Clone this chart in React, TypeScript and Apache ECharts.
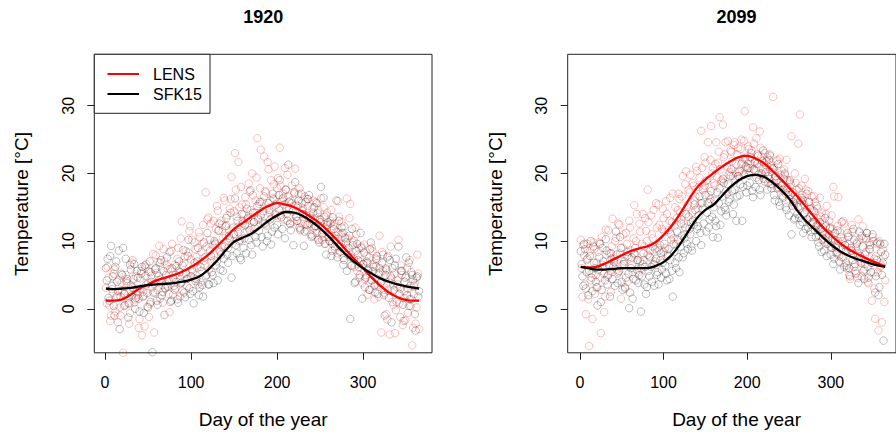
import React, { useEffect, useRef } from "react";
import * as echarts from "echarts";

// ---------- data ----------
// scatter values: "odd" arrays hold days 1,3,5,...,365 ; "even" arrays hold days 2,4,...,364
const lens1920Odd: number[] = [
  3.1, 6.2, 0.5, -1.0, 2.4, 5.8, 1.7, -2.0, 0.2, 3.8,
  -6.5, 2.2, 4.1, 0.8, -0.6, 6.8, 3.0, 1.4, 2.6, -2.8,
  4.5, -3.9, 1.9, 6.1, 0.3, -1.2, 5.4, 3.2, -3.5, 7.9,
  2.8, 9.3, 4.4, 0.9, 7.0, 3.6, 5.8, -0.5, 8.6, 2.1,
  6.5, 4.0, 9.0, 1.8, 12.9, 5.2, 7.7, 3.4, 8.3, 12.2,
  10.2, 4.6, 8.8, 6.0, 11.3, 3.9, 9.6, 7.1, 17.2, 13.2,
  5.8, 12.6, 9.4, 7.2, 11.8, 14.5, 8.6, 13.0, 10.5, 16.0,
  12.3, 9.0, 14.8, 19.5, 11.0, 23.0, 13.6, 21.7, 10.2, 15.4,
  13.9, 16.5, 11.5, 18.5, 14.6, 20.0, 12.8, 16.0, 25.2, 15.5,
  23.5, 13.0, 22.5, 17.2, 21.7, 14.2, 19.0, 16.4, 21.0, 13.8,
  19.3, 23.8, 15.8, 17.0, 20.8, 14.0, 16.6, 12.5, 18.2, 15.2,
  20.7, 13.6, 16.9, 11.8, 15.6, 14.0, 12.5, 16.2, 13.3, 11.0,
  14.8, 12.0, 15.8, 10.4, 13.2, 16.3, 11.2, 9.6, 13.8, 12.4,
  10.0, 14.6, 12.2, 8.8, 11.4, 15.9, 9.2, 12.8, 7.5, 10.6,
  16.3, 8.3, 15.5, 6.4, 10.1, 12.0, 5.6, 8.9, 7.0, 3.8,
  9.5, 5.0, 2.1, 7.6, 4.2, 8.5, 1.4, 6.3, 3.5, 10.8,
  -3.5, 5.6, 2.8, -0.8, 7.8, -3.8, 4.5, 0.6, -3.6, 3.2,
  10.2, -1.2, 5.0, 1.6, -1.7, 6.0, 0.4, 3.4, -5.4, 2.2,
  -2.2, 8.0, -3.0,
];
const lens1920Even: number[] = [
  0.8, 4.6, -1.8, 2.9, 5.2, -0.4, 1.9, 4.3, -1.0, 2.7,
  0.4, 5.0, 1.6, -2.2, 3.5, 7.2, 0.9, 4.8, 2.0, -1.5,
  5.6, 2.5, -2.6, 6.6, 3.8, 0.7, 4.9, 8.1, 2.4, 5.3,
  6.9, 1.5, 4.0, 8.8, 3.1, 6.4, 2.2, 5.9, 9.6, 4.3,
  3.0, 7.4, 5.6, 10.4, 2.6, 6.8, 8.5, 4.5, 11.5, 7.3,
  5.5, 9.8, 7.6, 3.6, 10.6, 8.4, 12.4, 6.4, 9.2, 13.5,
  10.2, 7.0, 13.0, 9.8, 15.2, 11.5, 8.4, 12.4, 16.4, 10.8,
  13.8, 11.6, 16.2, 9.6, 14.4, 17.6, 12.1, 15.0, 18.0, 13.0,
  11.2, 15.4, 13.2, 17.3, 12.0, 16.8, 14.2, 19.4, 13.4, 17.8,
  15.8, 12.6, 17.4, 14.8, 20.6, 16.0, 13.4, 18.4, 15.2, 17.8,
  14.6, 18.2, 16.2, 13.2, 17.6, 19.8, 14.8, 16.0, 12.9, 17.0,
  15.4, 13.0, 17.8, 12.6, 14.8, 16.6, 11.6, 15.2, 13.8, 12.2,
  16.0, 13.4, 11.2, 14.6, 12.8, 10.2, 15.0, 12.0, 14.2, 10.8,
  13.0, 9.6, 12.6, 10.8, 8.2, 13.6, 11.0, 9.0, 12.2, 8.6,
  10.4, 13.4, 7.6, 9.8, 6.2, 11.0, 8.0, 4.6, 9.2, 6.6,
  4.4, 7.8, 5.8, 2.8, 9.0, 6.6, 3.6, 7.2, 1.8, 5.4,
  8.4, 2.4, 6.0, -1.6, 4.0, 9.2, 1.0, 5.2, -0.2, 3.6,
  0.8, 6.4, -2.4, 2.6, 4.8, -0.6, 7.2, 1.4, -2.8, 3.8,
  0.2, 5.2,
];
const sfk1920Odd: number[] = [
  6.0, 7.4, 1.2, 9.3, 4.8, -1.0, 7.0, 2.6, -3.0, 5.2,
  9.0, 0.5, 3.8, -1.3, 6.5, 2.0, 4.4, 0.0, 5.6, 1.5,
  3.0, 6.2, -0.6, 4.9, 2.3, 5.5, 1.0, -6.4, 3.7, 6.0,
  0.6, 4.2, 7.2, 2.5, -0.9, 5.0, 3.3, 8.4, 1.2, 4.6,
  2.8, 6.3, 0.9, 5.4, 3.9, 8.7, 1.7, 4.4, 10.2, 2.2,
  5.8, 0.8, 4.1, 7.0, 2.0, 6.2, 3.5, 9.8, 4.8, 11.2,
  3.6, 7.8, 5.0, 10.0, 6.4, 4.2, 12.6, 8.0, 5.6, 9.2,
  13.4, 6.8, 10.4, 4.6, 12.0, 16.3, 8.2, 11.3, 7.5, 14.0,
  9.0, 12.4, 14.8, 10.2, 17.5, 8.0, 12.8, 10.6, 15.2, 11.5,
  13.8, 9.2, 16.6, 12.3, 10.8, 14.6, 9.5, 17.0, 12.0, 15.4,
  11.0, 19.0, 13.5, 16.4, 10.4, 14.8, 21.3, 12.6, 15.6, 9.4,
  18.7, 13.0, 16.0, 11.6, 14.5, 9.3, 15.8, 12.4, 16.8, 13.4,
  10.8, 15.0, 12.2, 14.1, 9.8, 18.0, 11.6, 13.6, 8.0, 12.8,
  10.0, 7.8, 13.5, 9.2, 16.0, 11.3, 8.4, 12.0, 6.5, 10.4,
  5.6, 9.0, -1.5, 11.8, 7.4, 4.0, 9.6, 6.2, 11.2, 1.5,
  8.3, 4.6, 6.8, 2.8, 9.8, 5.5, 3.4, 7.4, 2.2, 6.0,
  4.0, 8.0, -1.0, 5.8, 2.7, 7.2, -2.0, 3.6, 6.4, 1.0,
  9.2, 3.0, 5.6, -1.8, 4.6, 2.0, 6.8, 0.4, 5.0, 3.4,
  -3.2, 4.8, 2.6,
];
const sfk1920Even: number[] = [
  4.2, 1.6, 7.8, 3.4, 0.4, 6.2, 4.0, 8.6, 1.8, 5.0,
  2.2, 7.4, 4.4, 0.8, 5.8, 3.2, 6.6, 1.6, 4.6, -0.4,
  5.2, 1.8, 6.4, 3.6, 0.2, 7.0, 4.0, 2.4, 5.8, 1.2,
  4.8, 6.8, 2.0, 5.6, 3.0, 7.6, 4.2, 1.0, 6.0, 3.4,
  5.0, 1.4, 7.0, 3.8, 6.4, 2.4, 5.2, 7.8, 3.0, 4.8,
  2.6, 6.8, 4.4, 9.0, 3.2, 5.6, 1.8, 7.6, 5.0, 3.6,
  8.6, 5.4, 3.8, 9.6, 7.0, 11.6, 5.8, 9.2, 7.4, 12.2,
  8.0, 10.8, 14.2, 7.8, 11.0, 9.4, 13.0, 10.0, 7.2, 12.6,
  10.4, 8.2, 13.4, 11.6, 9.4, 14.2, 12.0, 9.8, 13.2, 15.8,
  10.6, 14.4, 12.6, 10.0, 15.6, 13.2, 11.4, 16.2, 14.0, 12.4,
  16.8, 13.8, 11.8, 15.4, 17.6, 13.0, 15.8, 11.6, 14.4, 17.2,
  13.6, 15.2, 12.0, 17.0, 14.0, 11.4, 13.8, 16.2, 12.6, 10.6,
  14.2, 12.2, 15.6, 10.2, 13.2, 11.0, 16.4, 9.6, 12.4, 10.6,
  12.6, 8.6, 11.8, 10.0, 7.6, 13.0, 9.6, 11.2, 7.2, 9.8,
  8.0, 10.8, 6.4, 9.4, 3.8, 8.6, 7.2, 5.0, 9.0, 6.6,
  3.2, 7.0, 5.6, 8.8, 4.2, 6.2, 2.4, 7.8, 5.2, 3.8,
  6.8, 2.0, 5.0, 7.6, 1.6, 4.8, 6.0, 2.8, 7.4, 4.2,
  2.2, 5.6, 0.6, 4.0, 7.6, 3.0, 1.4, 5.4, 4.2, -0.8,
  4.6, 1.8,
];
const lens2099Odd: number[] = [
  10.2, 1.8, 7.9, -0.8, 9.6, -5.5, 4.2, -1.5, 8.8, 5.0,
  3.2, 9.8, -3.6, 6.5, -0.5, 11.7, 4.8, 8.2, 2.5, 13.3,
  7.4, 10.5, 5.2, 12.4, 1.5, 9.0, 6.6, 11.2, 4.0, 13.0,
  8.6, 5.4, 15.3, 10.0, 7.2, 12.6, 6.0, 14.0, 9.2, 11.5,
  17.6, 7.8, 13.8, 10.4, 6.5, 15.6, 9.0, 12.4, 8.2, 14.8,
  11.4, 15.9, 8.0, 13.0, 10.2, 17.0, 12.2, 9.6, 14.6, 16.2,
  13.2, 19.6, 11.0, 20.3, 15.4, 17.2, 12.8, 18.6, 16.0, 21.0,
  14.8, 19.4, 26.3, 17.6, 22.4, 18.9, 24.6, 15.8, 27.0, 20.8,
  18.2, 24.6, 21.6, 28.3, 19.0, 27.2, 22.8, 17.4, 24.8, 20.2,
  23.2, 19.6, 24.6, 21.4, 23.8, 20.4, 25.0, 22.2, 29.2, 21.0,
  24.0, 20.8, 23.4, 26.8, 21.8, 25.2, 19.8, 26.2, 22.5, 20.6,
  23.0, 21.2, 18.6, 22.6, 20.2, 31.3, 19.4, 21.8, 18.0, 22.2,
  20.4, 17.6, 19.8, 22.0, 16.8, 18.8, 25.5, 17.2, 20.0, 15.6,
  24.4, 28.7, 18.2, 16.0, 19.2, 14.6, 17.4, 13.6, 16.6, 12.8,
  15.8, 13.4, 11.6, 16.4, 14.2, 10.4, 12.6, 15.2, 9.8, 11.8,
  13.8, 18.0, 10.2, 8.4, 16.5, 11.4, 7.6, 13.0, 9.4, 6.0,
  10.8, 4.4, 12.4, 8.2, 5.6, 9.8, 13.2, 7.0, 4.8, 10.4,
  6.6, 11.2, 3.8, 8.8, 1.2, 5.4, -1.5, 9.6, -3.2, 6.2,
  -2.0, 7.6, 4.2,
];
const lens2099Even: number[] = [
  6.0, 9.4, 3.6, 7.2, 1.4, 8.6, 5.2, 9.8, 2.2, 6.8,
  8.4, 4.6, 10.6, 6.2, 1.8, 8.0, 11.6, 5.6, 9.2, 7.0,
  10.0, 5.8, 12.6, 8.2, 6.4, 11.0, 3.2, 9.6, 7.6, 12.0,
  6.4, 10.4, 8.0, 14.0, 5.4, 11.4, 9.6, 7.2, 13.4, 10.0,
  12.8, 8.6, 11.0, 14.6, 7.0, 12.0, 15.4, 9.4, 11.8, 13.4,
  9.0, 14.0, 11.6, 16.4, 12.8, 10.4, 15.0, 13.4, 17.0, 14.2,
  16.6, 12.6, 18.4, 15.0, 17.6, 19.8, 14.2, 18.2, 16.6, 20.4,
  18.0, 15.6, 20.8, 17.8, 21.6, 19.0, 16.8, 22.0, 20.0, 18.6,
  21.4, 19.4, 23.2, 20.6, 18.8, 22.4, 24.6, 21.0, 19.8, 23.4,
  21.8, 24.2, 20.2, 22.8, 19.6, 23.6, 21.6, 24.8, 22.4, 20.6,
  23.6, 21.4, 22.2, 24.4, 20.4, 22.8, 21.0, 23.8, 19.8, 21.6,
  20.0, 22.4, 19.2, 21.2, 18.4, 20.8, 19.6, 22.0, 17.8, 19.8,
  18.2, 20.6, 17.0, 19.0, 16.2, 18.4, 17.2, 15.4, 18.6, 16.4,
  17.8, 15.2, 16.8, 14.0, 17.6, 13.2, 15.8, 12.4, 14.6, 16.6,
  12.2, 14.8, 10.8, 13.6, 12.0, 9.8, 14.0, 11.2, 13.0, 9.2,
  11.8, 16.6, 9.0, 12.2, 7.8, 10.6, 8.8, 12.6, 6.8, 9.6,
  5.0, 8.6, 11.4, 6.2, 9.0, 4.6, 10.2, 7.4, 12.2, 5.8,
  8.4, 4.0, 9.8, 6.8, 10.6, 3.0, 7.8, 5.4, 10.0, 6.4,
  8.8, 1.0,
];
const sfk2099Odd: number[] = [
  8.5, 4.8, 9.6, 3.0, 7.4, 5.6, 10.0, 2.6, 6.8, 4.0,
  0.5, 7.6, 1.0, 9.0, 5.2, 10.3, 3.6, 6.4, 8.2, 4.4,
  6.9, 11.4, 3.8, 5.6, 9.0, 2.8, 7.0, 4.6, 8.4, 0.1,
  6.0, 1.5, 8.2, 4.2, 7.2, 5.0, -0.4, 6.6, 3.6, 2.2,
  8.0, 4.8, 6.2, 9.2, 3.4, 7.4, 5.4, 8.6, 4.6, 6.8,
  9.6, 5.2, 7.8, 4.4, 11.0, 1.8, 8.4, 6.0, 10.2, 5.4,
  12.6, 7.6, 10.4, 14.0, 8.8, 11.8, 9.2, 13.0, 15.4, 10.0,
  12.2, 16.6, 9.4, 14.8, 18.2, 11.4, 15.6, 13.2, 17.4, 10.6,
  16.0, 12.2, 10.5, 17.8, 14.4, 19.2, 15.0, 13.8, 18.4, 16.2,
  20.6, 14.0, 17.6, 13.0, 19.6, 16.8, 21.4, 18.0, 22.2, 17.2,
  20.8, 18.6, 23.0, 16.5, 21.6, 19.4, 22.6, 17.6, 20.0, 23.4,
  18.8, 21.8, 19.6, 22.8, 17.8, 20.6, 16.0, 19.0, 21.4, 15.2,
  18.2, 16.4, 20.0, 14.6, 17.2, 19.0, 11.0, 15.8, 13.4, 17.6,
  15.0, 12.4, 16.4, 11.2, 14.2, 17.0, 12.0, 14.8, 10.6, 13.6,
  11.6, 15.2, 9.8, 12.8, 8.4, 11.4, 13.4, 7.8, 10.4, 12.0,
  9.0, 6.6, 11.2, 8.2, 10.0, 5.8, 12.8, 7.6, 9.4, 6.4,
  10.6, 4.8, 8.6, 11.8, 6.6, 9.6, 3.8, 7.8, 10.8, 5.6,
  8.0, 11.2, 4.6, 9.4, 6.8, 10.0, 2.4, 7.2, 2.0, 9.6,
  5.0, -4.7, 8.0,
];
const sfk2099Even: number[] = [
  6.6, 3.4, 8.8, 5.4, 2.0, 7.8, 4.6, 9.2, 6.0, 3.2,
  5.8, 9.6, 2.8, 7.0, 4.2, 8.6, 5.0, 1.8, 7.4, 6.2,
  3.4, 8.0, 5.4, 10.6, 4.0, 6.6, 3.0, 7.8, 5.2, 2.4,
  7.6, 4.4, 9.0, 5.8, 3.8, 7.0, 4.8, 8.2, 6.2, 3.2,
  5.6, 7.6, 4.0, 6.6, 8.8, 5.0, 3.6, 7.2, 5.8, 8.4,
  6.4, 4.2, 8.8, 7.2, 5.6, 9.6, 6.8, 11.4, 7.6, 9.2,
  10.8, 8.2, 12.0, 9.6, 13.6, 11.0, 8.6, 12.4, 14.6, 11.8,
  13.8, 11.2, 15.6, 12.6, 16.8, 14.2, 12.0, 16.2, 13.6, 15.0,
  13.0, 17.2, 15.6, 12.4, 16.6, 18.6, 14.6, 17.0, 15.8, 19.6,
  17.4, 15.4, 19.0, 16.6, 20.2, 18.4, 13.0, 19.8, 21.0, 18.2,
  19.8, 22.4, 17.4, 20.6, 18.0, 21.4, 19.0, 16.8, 21.8, 19.2,
  20.2, 17.6, 22.0, 18.4, 20.8, 16.8, 19.6, 17.8, 15.8, 18.6,
  16.6, 19.2, 15.0, 17.8, 13.8, 16.8, 15.2, 13.2, 16.2, 14.0,
  13.4, 16.0, 12.8, 15.4, 11.8, 13.2, 15.8, 11.4, 12.8, 14.4,
  10.6, 12.4, 9.2, 11.8, 10.2, 8.6, 12.2, 9.6, 11.0, 8.0,
  10.4, 7.4, 9.2, 11.6, 7.0, 8.8, 10.0, 6.2, 8.6, 11.2,
  6.0, 9.0, 7.2, 10.2, 5.2, 8.2, 11.4, 6.8, 9.2, 4.4,
  10.4, 6.2, 8.8, 5.4, 11.0, 7.4, 4.8, 9.8, 3.2, 8.4,
  6.8, 9.6,
];

// smoothed curves (at these days)
const curveDays: number[] = [
  1, 10, 20, 30, 40, 50, 60, 70, 80, 90, 100, 110, 120, 130, 140, 150, 160, 170, 180,
  190, 200, 210, 220, 230, 240, 250, 260, 270, 280, 290, 300, 310, 320, 330, 340, 350, 360, 365,
];
const lensCurve1920: number[] = [
  1.2, 1.2, 1.4, 2.1, 3.0, 3.6, 4.2, 4.6, 5.0, 5.5, 6.2, 7.0, 8.0, 9.2, 10.5, 11.8, 12.7, 13.6, 14.5,
  15.2, 15.6, 15.4, 15.0, 14.3, 13.5, 12.6, 11.4, 10.1, 8.7, 7.3, 6.0, 4.6, 3.4, 2.4, 1.7, 1.3, 1.2, 1.2,
];
const sfkCurve1920: number[] = [
  3.0, 2.9, 3.0, 3.1, 3.3, 3.5, 3.6, 3.7, 3.8, 4.0, 4.3, 4.8, 5.8, 7.1, 8.6, 9.9, 10.5, 11.1, 12.0,
  13.0, 13.8, 14.3, 14.2, 13.7, 12.9, 11.9, 10.7, 9.3, 8.0, 6.9, 6.0, 5.2, 4.5, 4.0, 3.6, 3.3, 3.1, 3.0,
];
const lensCurve2099: number[] = [
  6.2, 6.1, 6.2, 6.7, 7.3, 7.9, 8.5, 8.9, 9.2, 9.8, 10.9, 12.3, 14.1, 16.1, 17.9, 19.1, 20.1, 21.0, 21.8,
  22.4, 22.6, 22.2, 21.5, 20.4, 19.2, 17.9, 16.6, 15.1, 13.6, 12.1, 10.9, 9.8, 8.9, 8.2, 7.6, 7.0, 6.5, 6.3,
];
const sfkCurve2099: number[] = [
  6.2, 6.0, 5.8, 5.8, 5.9, 6.0, 6.0, 6.0, 6.0, 6.3, 6.9, 8.0, 9.6, 11.5, 13.4, 14.6, 15.4, 16.7, 18.0,
  19.0, 19.6, 19.8, 19.5, 18.7, 17.6, 16.3, 14.5, 13.0, 11.8, 10.6, 9.5, 8.6, 7.9, 7.4, 7.0, 6.6, 6.3, 6.2,
];

const panelTitles = ["1920", "2099"];
const seriesNames = ["LENS", "SFK15"];
const xTicks = [0, 100, 200, 300];
const yTicks = [0, 10, 20, 30];
const xLabel = "Day of the year";
const yLabel = "Temperature [°C]";

const FONT = "'Liberation Sans', Arial, Helvetica, sans-serif";
const RED = "#ff0000";
const BLACK = "#000000";
const RED_PT = "rgba(255,0,0,0.32)";
const BLACK_PT = "rgba(0,0,0,0.32)";

const toPoints = (odd: number[], even: number[]) => {
  const pts: number[][] = [];
  odd.forEach((v, i) => pts.push([1 + 2 * i, v]));
  even.forEach((v, i) => pts.push([2 + 2 * i, v]));
  pts.sort((a, b) => a[0] - b[0]);
  return pts;
};
const toCurve = (vals: number[]) => vals.map((v, i) => [curveDays[i], v]);

export default function App() {
  const ref = useRef<HTMLDivElement>(null);

  useEffect(() => {
    if (!ref.current) return;
    const chart = echarts.init(ref.current, undefined, { renderer: "svg" });

    const grids = [
      { left: 94.3, top: 54.3, width: 337.7, height: 298.5 },
      { left: 567.7, top: 54.3, width: 337.7, height: 298.5 },
    ];
    const xRanges = [
      [-12.5, 380],
      [-14.6, 377.9],
    ];

    const xAxis = grids.map((_, k) => ({
      gridIndex: k,
      type: "value",
      min: xRanges[k][0],
      max: xRanges[k][1],
      axisLine: { show: false, onZero: false },
      splitLine: { show: false },
      axisTick: { show: true, length: 7, lineStyle: { color: "#222", width: 1 }, customValues: xTicks },
      axisLabel: { customValues: xTicks, margin: 22, fontSize: 16, color: "#000", fontFamily: FONT },
    }));
    const yAxis = grids.map((_, k) => ({
      gridIndex: k,
      type: "value",
      min: -6.5,
      max: 37.6,
      axisLine: { show: false, onZero: false },
      splitLine: { show: false },
      axisTick: { show: true, length: 7, lineStyle: { color: "#222", width: 1 }, customValues: yTicks },
      axisLabel: { customValues: yTicks, margin: 18, fontSize: 16, rotate: 90, color: "#000", fontFamily: FONT },
    }));

    const scatter = (k: number, odd: number[], even: number[], color: string, name: string) => ({
      type: "scatter",
      name,
      xAxisIndex: k,
      yAxisIndex: k,
      data: toPoints(odd, even),
      symbol: "circle",
      symbolSize: 7.5,
      silent: true,
      itemStyle: { color: "rgba(0,0,0,0)", borderColor: color, borderWidth: 1 },
      emphasis: { disabled: true },
      z: 2,
    });
    const curve = (k: number, vals: number[], color: string, name: string) => ({
      type: "line",
      name,
      xAxisIndex: k,
      yAxisIndex: k,
      data: toCurve(vals),
      smooth: 0.4,
      showSymbol: false,
      symbol: "none",
      silent: true,
      lineStyle: { color, width: 2.3 },
      emphasis: { disabled: true },
      z: 3,
    });

    const centers = [94.3 + 337.7 / 2, 567.7 + 337.7 / 2];
    const graphic: any[] = [];
    centers.forEach((cx, k) => {
      graphic.push({
        type: "text",
        x: cx,
        y: 16.5,
        z: 100,
        style: { text: panelTitles[k], align: "center", verticalAlign: "middle", fontSize: 18, fontWeight: "bold", fill: "#000", fontFamily: FONT },
      });
      graphic.push({
        type: "text",
        x: cx,
        y: 419,
        z: 100,
        style: { text: xLabel, align: "center", verticalAlign: "middle", fontSize: 19, fill: "#000", fontFamily: FONT },
      });
      graphic.push({
        type: "text",
        x: grids[k].left - 72.5,
        y: 204,
        rotation: Math.PI / 2,
        z: 100,
        style: { text: yLabel, align: "center", verticalAlign: "middle", fontSize: 19, fill: "#000", fontFamily: FONT },
      });
    });
    // legend (left panel only)
    graphic.push({
      type: "rect",
      z: 100,
      shape: { x: 94.3, y: 54.3, width: 115.7, height: 59 },
      style: { fill: "#fff", stroke: "#222", lineWidth: 1 },
    });
    [RED, BLACK].forEach((c, i) => {
      const y = 74 + i * 20;
      graphic.push({
        type: "line",
        z: 101,
        shape: { x1: 107.5, y1: y, x2: 139, y2: y },
        style: { stroke: c, lineWidth: 2 },
      });
      graphic.push({
        type: "text",
        x: 153,
        y,
        z: 101,
        style: { text: seriesNames[i], align: "left", verticalAlign: "middle", fontSize: 16, fill: "#000", fontFamily: FONT },
      });
    });

    chart.setOption({
      animation: false,
      textStyle: { fontFamily: FONT },
      grid: grids.map((g) => ({ ...g, show: true, borderColor: "#222", borderWidth: 1, backgroundColor: "transparent", containLabel: false })),
      xAxis,
      yAxis,
      series: [
        scatter(0, lens1920Odd, lens1920Even, RED_PT, "LENS points"),
        scatter(0, sfk1920Odd, sfk1920Even, BLACK_PT, "SFK15 points"),
        curve(0, lensCurve1920, RED, seriesNames[0]),
        curve(0, sfkCurve1920, BLACK, seriesNames[1]),
        scatter(1, lens2099Odd, lens2099Even, RED_PT, "LENS points"),
        scatter(1, sfk2099Odd, sfk2099Even, BLACK_PT, "SFK15 points"),
        curve(1, lensCurve2099, RED, seriesNames[0]),
        curve(1, sfkCurve2099, BLACK, seriesNames[1]),
      ],
      graphic,
    });

    return () => chart.dispose();
  }, []);

  return (
    <div
      ref={ref}
      style={{ position: "fixed", left: 0, top: 0, width: 896, height: 436, background: "#fff" }}
    />
  );
}
